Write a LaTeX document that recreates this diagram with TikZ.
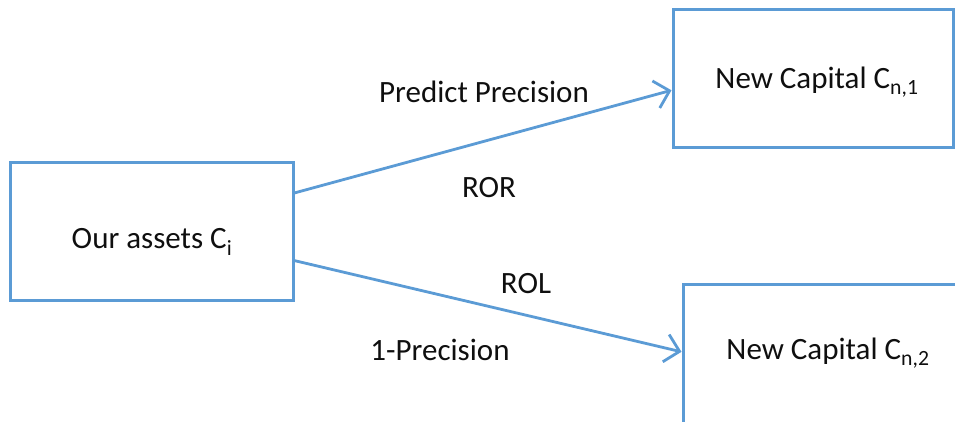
\documentclass[tikz,border=0pt]{standalone}
\usepackage{fontspec}
\setmainfont{Carlito}
\usetikzlibrary{arrows.meta,calc}
\definecolor{officeblue}{RGB}{91,155,213}
\definecolor{txt}{RGB}{15,15,15}
\tikzset{
  box/.style={draw=officeblue, line width=3pt, rectangle, inner sep=0pt},
  lbl/.style={text=txt, font=\fontsize{31}{35}\selectfont, inner sep=0pt},
  conn/.style={draw=officeblue, line width=2.8pt, -{Straight Barb[length=14pt,width=28pt,line width=2.8pt]}}
}
\begin{document}
\begin{tikzpicture}[x=1pt,y=-1pt]
\useasboundingbox (0,0) rectangle (955,421);
\clip (0,0) rectangle (955,421);
% boxes
\node[box, minimum width=283pt, minimum height=138pt] (a) at (151.5,231) {};
\node[box, minimum width=280pt, minimum height=138pt] (b) at (813,78) {};
\node[box, minimum width=292pt, minimum height=156pt] (c) at (829,362) {};
% box texts
\node[lbl] (at) at (152,242) {Our assets C\textsubscript{i}};
\node[lbl] (bt) at (817,82) {New Capital C\textsubscript{n,1}};
\node[lbl] (ct) at (828,353) {New Capital C\textsubscript{n,2}};
% connectors
\draw[conn] ($(a.north east)!0.23!(a.south east)$) -- ($(b.north west)!0.587!(b.south west)$);
\draw[conn] ($(a.north east)!0.71!(a.south east)$) -- ($(c.north west)!0.436!(c.south west)$);
% labels
\node[lbl] (l1) at (484,92) {Predict Precision};
\node[lbl] (l2) at (489,188) {ROR};
\node[lbl] (l3) at (526,284) {ROL};
\node[lbl] (l4) at (440,350) {1-Precision};
\end{tikzpicture}
\end{document}
